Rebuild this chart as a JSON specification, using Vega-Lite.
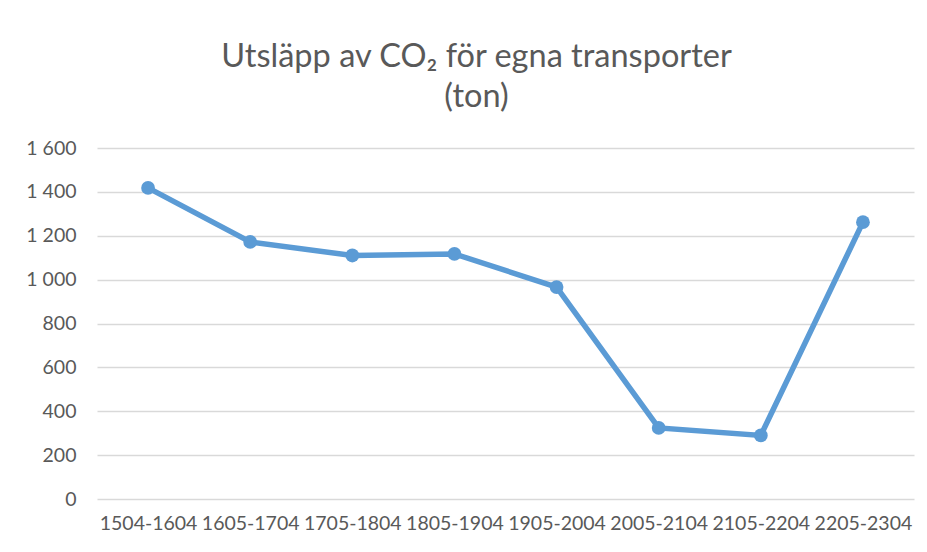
{
  "$schema": "https://vega.github.io/schema/vega-lite/v6.json",
  "autosize": {"type": "none"},
  "width": 817,
  "height": 351,
  "padding": {"left": 97, "top": 148, "right": 13, "bottom": 53},
  "background": "white",
  "title": {
    "text": ["Utsläpp av CO₂ för egna transporter", "(ton)"],
    "font": "Lato",
    "fontSize": 32.5,
    "fontWeight": "normal",
    "color": "#595959",
    "lineHeight": 40,
    "anchor": "middle",
    "dx": -29,
    "offset": 25
  },
  "data": {
    "values": [
      {"period": "1504-1604", "ton": 1418},
      {"period": "1605-1704", "ton": 1172},
      {"period": "1705-1804", "ton": 1110},
      {"period": "1805-1904", "ton": 1117},
      {"period": "1905-2004", "ton": 966},
      {"period": "2005-2104", "ton": 324},
      {"period": "2105-2204", "ton": 290},
      {"period": "2205-2304", "ton": 1262}
    ]
  },
  "encoding": {
    "x": {
      "field": "period",
      "type": "ordinal",
      "sort": null,
      "axis": {
        "title": null,
        "labelAngle": 0,
        "domain": false,
        "ticks": false,
        "labelPadding": 15,
        "labelFont": "Lato",
        "labelFontSize": 19.5,
        "labelColor": "#595959",
        "labelOverlap": false
      }
    },
    "y": {
      "field": "ton",
      "type": "quantitative",
      "scale": {"domain": [0, 1600], "nice": false},
      "axis": {
        "title": null,
        "values": [0, 200, 400, 600, 800, 1000, 1200, 1400, 1600],
        "format": ",d",
        "domain": false,
        "ticks": false,
        "labelPadding": 21,
        "labelFont": "Lato",
        "labelFontSize": 19.5,
        "labelColor": "#595959",
        "gridColor": "#D9D9D9",
        "gridWidth": 1.5
      }
    }
  },
  "layer": [
    {"mark": {"type": "line", "color": "#5B9BD5", "strokeWidth": 5.5}},
    {"mark": {"type": "point", "filled": true, "color": "#5B9BD5", "size": 190, "opacity": 1}}
  ],
  "config": {
    "view": {"stroke": null},
    "locale": {
      "number": {"decimal": ",", "thousands": " ", "grouping": [3], "currency": ["", " kr"]}
    }
  }
}
